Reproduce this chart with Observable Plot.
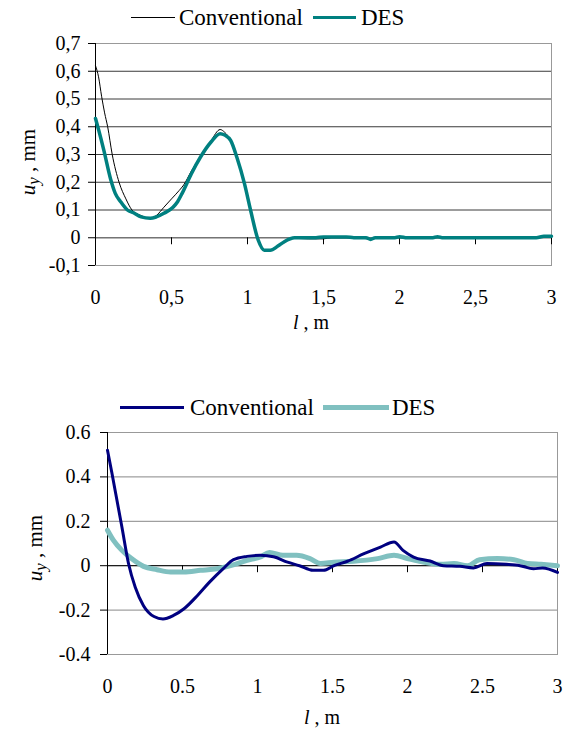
<!DOCTYPE html>
<html><head><meta charset="utf-8">
<script src="https://cdn.jsdelivr.net/npm/d3@7"></script>
<script src="https://cdn.jsdelivr.net/npm/@observablehq/plot@0.6"></script>
<style>
body{margin:0;background:#fff;font-family:"Liberation Serif","DejaVu Serif",serif;color:#000}
#root{position:relative;width:569px;height:731px;overflow:hidden}
.legend{position:absolute;display:flex;align-items:center;font-size:23px;white-space:nowrap;line-height:1}
.sw{display:inline-block}
.ylab{position:absolute;font-size:21px;white-space:nowrap;transform:translate(-50%,-50%) rotate(-90deg)}
.xlab{position:absolute;font-size:20px;white-space:nowrap;transform:translate(-50%,-50%)}
sub{font-size:0.8em;vertical-align:-0.2em}
</style></head>
<body><div id="root"></div>
<script>
// ---------- data ----------
const seriesNames = ["Conventional", "DES"];

const topXTicks = [0, 0.5, 1, 1.5, 2, 2.5, 3];
const topYTicks = [-0.1, 0, 0.1, 0.2, 0.3, 0.4, 0.5, 0.6, 0.7];
const botXTicks = [0, 0.5, 1, 1.5, 2, 2.5, 3];
const botYTicks = [-0.4, -0.2, 0, 0.2, 0.4, 0.6];

const topConventional = [
  [0,0.62],[0.02,0.58],[0.04,0.51],[0.06,0.45],[0.08,0.40],[0.11,0.30],[0.155,0.20],[0.2,0.14],
  [0.24,0.10],[0.3,0.08],[0.36,0.07],[0.4,0.08],[0.45,0.11],[0.5,0.14],[0.55,0.17],[0.58,0.19],
  [0.63,0.24],[0.7,0.30],[0.76,0.35],[0.82,0.39],[0.85,0.38],[0.89,0.35],[0.93,0.29],[0.98,0.195],
  [1.02,0.10],[1.07,-0.01],[1.11,-0.045],[1.15,-0.045],[1.2,-0.03],[1.25,-0.012],[1.3,-0.002],
  [1.4,-0.004],[1.5,-0.004],[1.55,0.0],[1.7,0.0],[1.8,-0.004],[1.9,0.0],[2.2,0.0],[2.9,0.0],[3.0,0.004]
];
const topDES = [
  [0,0.43],[0.02,0.39],[0.055,0.315],[0.1,0.21],[0.13,0.16],[0.165,0.13],[0.21,0.10],[0.25,0.09],
  [0.3,0.075],[0.36,0.07],[0.4,0.075],[0.45,0.088],[0.51,0.11],[0.54,0.13],[0.57,0.16],[0.63,0.23],
  [0.69,0.29],[0.76,0.345],[0.82,0.375],[0.85,0.37],[0.89,0.35],[0.93,0.29],[0.98,0.195],[1.02,0.10],
  [1.07,-0.008],[1.11,-0.045],[1.15,-0.045],[1.2,-0.03],[1.24,-0.015],[1.31,0.0],[1.45,0.0],
  [1.5,0.003],[1.65,0.003],[1.7,0.0],[1.78,0.0],[1.81,-0.006],[1.84,0.0],[1.97,0.0],[2.0,0.004],
  [2.05,0.0],[2.22,0.0],[2.25,0.004],[2.28,0.0],[2.9,0.0],[2.95,0.005],[3.0,0.005]
];
const botConventional = [
  [0,0.52],[0.03,0.415],[0.063,0.295],[0.096,0.174],[0.14,0.01],[0.185,-0.097],[0.24,-0.18],
  [0.31,-0.229],[0.37,-0.24],[0.44,-0.224],[0.51,-0.194],[0.6,-0.134],[0.68,-0.074],[0.77,-0.014],
  [0.84,0.027],[0.93,0.042],[1.02,0.047],[1.107,0.04],[1.2,0.016],[1.28,0.0],[1.37,-0.021],
  [1.44,-0.021],[1.51,0.0],[1.6,0.02],[1.71,0.054],[1.82,0.084],[1.91,0.107],[1.97,0.069],
  [2.04,0.039],[2.15,0.021],[2.24,0.0],[2.35,-0.003],[2.44,-0.01],[2.53,0.01],[2.66,0.006],
  [2.75,0.0],[2.84,-0.014],[2.9,-0.01],[3.0,-0.03]
];
const botDES = [
  [0,0.16],[0.04,0.114],[0.096,0.069],[0.16,0.032],[0.24,-0.003],[0.33,-0.018],[0.42,-0.028],
  [0.51,-0.028],[0.62,-0.021],[0.73,-0.014],[0.82,0.0],[0.93,0.024],[1.02,0.04],[1.08,0.06],
  [1.17,0.047],[1.26,0.047],[1.35,0.032],[1.42,0.01],[1.51,0.016],[1.64,0.02],[1.8,0.032],
  [1.91,0.047],[2.0,0.032],[2.08,0.02],[2.22,0.006],[2.31,0.01],[2.4,0.0],[2.48,0.027],
  [2.6,0.032],[2.71,0.027],[2.8,0.01],[2.89,0.006],[3.0,0.0]
];

// ---------- styles ----------
const fmtComma = d => String(d).replace(".", ",");
const fmtDot = d => String(d);
const font = {fontFamily: "'Liberation Serif','DejaVu Serif',serif", fontSize: "20px", color: "#000", background: "transparent", overflow: "visible"};

const root = document.getElementById("root");

function chart(cfg) {
  return Plot.plot({
    width: 569, height: 307,
    marginLeft: cfg.ml, marginRight: cfg.mr, marginTop: 10, marginBottom: 75,
    style: font,
    x: {domain: [0, 3]},
    y: {domain: cfg.ydomain},
    marks: [
      Plot.gridY(cfg.yticks, {stroke: cfg.grid, strokeOpacity: 1}),
      Plot.frame({stroke: "#999"}),
      Plot.ruleY([0], {stroke: cfg.zero, strokeOpacity: 1}),
      Plot.ruleX(cfg.xticks, {x: d => d, y1: () => 0, y2: () => 0, insetBottom: -7, stroke: "#000"}),
      Plot.ruleX([0], {stroke: "#000"}),
      Plot.axisY(cfg.yticks, {tickFormat: cfg.fmt, tickSize: 7, tickPadding: cfg.ypad, stroke: "#000", label: null}),
      Plot.axisX(cfg.xticks, {tickFormat: cfg.fmt, tickSize: 0, tickPadding: 24, label: null}),
      ...cfg.lines
    ]
  });
}

const topChart = chart({
  ml: 95, mr: 18, ydomain: [-0.1, 0.7], yticks: topYTicks, xticks: topXTicks,
  fmt: fmtComma, grid: "#3a3a3a", zero: "#777", ypad: 8,
  lines: [
    Plot.line(topConventional, {x: d => d[0], y: d => d[1], stroke: "#000", strokeWidth: 1, curve: "monotone-x"}),
    Plot.line(topDES, {x: d => d[0], y: d => d[1], stroke: "#008080", strokeWidth: 3.5, curve: "monotone-x"})
  ]
});
topChart.style.position = "absolute"; topChart.style.left = "0px"; topChart.style.top = "33px";
root.appendChild(topChart);

const botChart = chart({
  ml: 107, mr: 12, ydomain: [-0.4, 0.6], yticks: botYTicks, xticks: botXTicks,
  fmt: fmtDot, grid: "#888", zero: "#000", ypad: 10,
  lines: [
    Plot.line(botDES, {x: d => d[0], y: d => d[1], stroke: "#80C0C0", strokeWidth: 5, curve: "monotone-x"}),
    Plot.line(botConventional, {x: d => d[0], y: d => d[1], stroke: "#000080", strokeWidth: 3, curve: "monotone-x"})
  ]
});
botChart.style.position = "absolute"; botChart.style.left = "0px"; botChart.style.top = "422px";
root.appendChild(botChart);

// ---------- legends & labels ----------
function legend(left, top, items) {
  const div = document.createElement("div");
  div.className = "legend";
  div.style.left = left + "px"; div.style.top = top + "px";
  items.forEach(it => {
    const sw = document.createElement("span");
    sw.className = "sw";
    sw.style.width = it.w + "px"; sw.style.height = it.sw + "px"; sw.style.background = it.color;
    sw.style.marginRight = it.gap + "px"; sw.style.marginLeft = (it.ml || 0) + "px";
    const t = document.createElement("span");
    t.textContent = it.name;
    div.appendChild(sw); div.appendChild(t);
  });
  root.appendChild(div);
}
legend(131, 6, [
  {name: seriesNames[0], color: "#000", w: 44, sw: 1, gap: 4},
  {name: seriesNames[1], color: "#008080", w: 43, sw: 3.5, gap: 5, ml: 10}
]);
legend(120, 396, [
  {name: seriesNames[0], color: "#000080", w: 64, sw: 3, gap: 6},
  {name: seriesNames[1], color: "#80C0C0", w: 66, sw: 5, gap: 3, ml: 9}
]);

function label(cls, x, y, html) {
  const d = document.createElement("div");
  d.className = cls; d.style.left = x + "px"; d.style.top = y + "px"; d.innerHTML = html;
  root.appendChild(d);
}
label("ylab", 30, 162, "<i>u<sub>y</sub></i> , mm");
label("ylab", 37, 548, "<i>u<sub>y</sub></i> , mm");
label("xlab", 311, 322, "<i>l</i> , m");
label("xlab", 322, 717, "<i>l</i> , m");
</script>
</body></html>
